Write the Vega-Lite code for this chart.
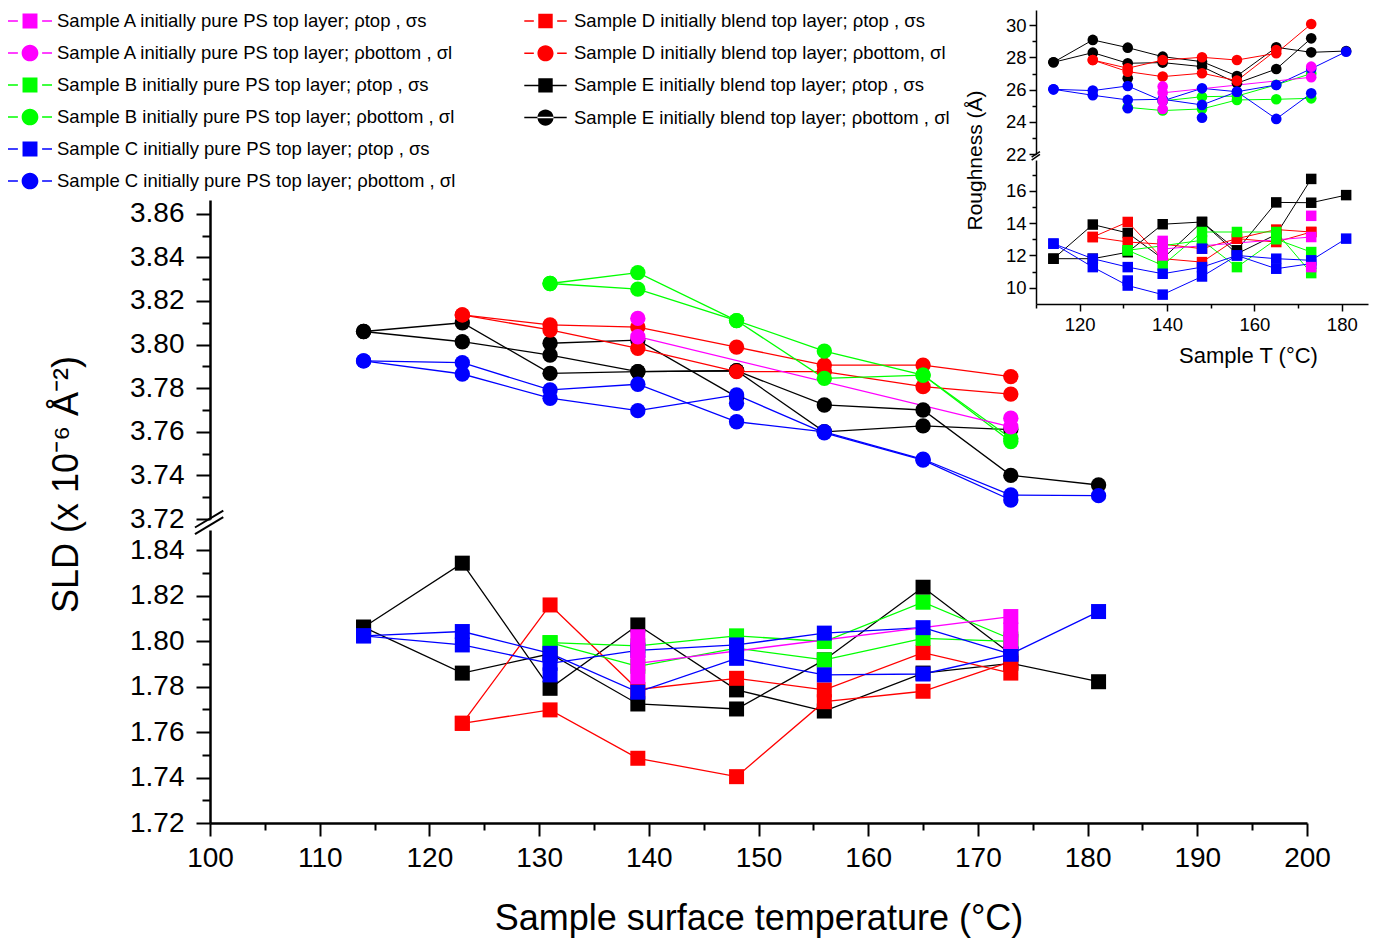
{
  "$schema": "https://vega.github.io/schema/vega-lite/v6.json",
  "width": 1376,
  "height": 939,
  "autosize": {"type": "none"},
  "padding": 0,
  "background": "white",
  "config": {
    "view": {"stroke": null},
    "font": "Liberation Sans",
    "axis": {"grid": false, "domainColor": "black", "tickColor": "black", "labelColor": "black", "titleColor": "black", "labelFont": "Liberation Sans", "titleFont": "Liberation Sans", "titleFontWeight": "normal", "labelOverlap": false, "labelFlush": false}
  },
  "datasets": {
    "d": [
      {"p":"U","s":"E","T":114,"v":3.806,"r":1},{"p":"U","s":"E","T":123,"v":3.810,"r":1},{"p":"U","s":"E","T":131,"v":3.7868,"r":1},{"p":"U","s":"E","T":139,"v":3.7876,"r":1},{"p":"U","s":"E","T":148,"v":3.788,"r":1},{"p":"U","s":"E","T":156,"v":3.7723,"r":1},{"p":"U","s":"E","T":165,"v":3.770,"r":1},{"p":"U","s":"E","T":173,"v":3.740,"r":1},{"p":"U","s":"E","T":181,"v":3.7356,"r":1},
      {"p":"U","s":"E","T":114,"v":3.806,"r":2},{"p":"U","s":"E","T":123,"v":3.8013,"r":2},{"p":"U","s":"E","T":131,"v":3.7952,"r":2},{"p":"U","s":"E","T":139,"v":3.7876,"r":2},{"p":"U","s":"E","T":148,"v":3.788,"r":2},{"p":"U","s":"E","T":156,"v":3.760,"r":2},{"p":"U","s":"E","T":165,"v":3.7627,"r":2},{"p":"U","s":"E","T":173,"v":3.761,"r":2},
      {"p":"U","s":"E","T":131,"v":3.8006,"r":3},{"p":"U","s":"E","T":139,"v":3.802,"r":3},{"p":"U","s":"E","T":148,"v":3.776,"r":3},
      {"p":"U","s":"D","T":123,"v":3.8136,"r":1},{"p":"U","s":"D","T":131,"v":3.809,"r":1},{"p":"U","s":"D","T":139,"v":3.808,"r":1},{"p":"U","s":"D","T":148,"v":3.7988,"r":1},{"p":"U","s":"D","T":156,"v":3.7906,"r":1},{"p":"U","s":"D","T":165,"v":3.7906,"r":1},{"p":"U","s":"D","T":173,"v":3.7853,"r":1},
      {"p":"U","s":"D","T":123,"v":3.8136,"r":2},{"p":"U","s":"D","T":131,"v":3.8067,"r":2},{"p":"U","s":"D","T":139,"v":3.7983,"r":2},{"p":"U","s":"D","T":148,"v":3.7876,"r":2},{"p":"U","s":"D","T":156,"v":3.7876,"r":2},{"p":"U","s":"D","T":165,"v":3.7807,"r":2},{"p":"U","s":"D","T":173,"v":3.7773,"r":2},
      {"p":"U","s":"B","T":131,"v":3.828,"r":1},{"p":"U","s":"B","T":139,"v":3.833,"r":1},{"p":"U","s":"B","T":148,"v":3.811,"r":1},{"p":"U","s":"B","T":156,"v":3.797,"r":1},{"p":"U","s":"B","T":165,"v":3.786,"r":1},{"p":"U","s":"B","T":173,"v":3.7555,"r":1},
      {"p":"U","s":"B","T":131,"v":3.828,"r":2},{"p":"U","s":"B","T":139,"v":3.8254,"r":2},{"p":"U","s":"B","T":148,"v":3.811,"r":2},{"p":"U","s":"B","T":156,"v":3.7845,"r":2},{"p":"U","s":"B","T":165,"v":3.786,"r":2},{"p":"U","s":"B","T":173,"v":3.757,"r":2},
      {"p":"U","s":"C","T":114,"v":3.7925,"r":1},{"p":"U","s":"C","T":123,"v":3.7917,"r":1},{"p":"U","s":"C","T":131,"v":3.7792,"r":1},{"p":"U","s":"C","T":139,"v":3.7818,"r":1},{"p":"U","s":"C","T":148,"v":3.7646,"r":1},{"p":"U","s":"C","T":156,"v":3.760,"r":1},{"p":"U","s":"C","T":165,"v":3.7474,"r":1},{"p":"U","s":"C","T":173,"v":3.731,"r":1},{"p":"U","s":"C","T":181,"v":3.7307,"r":1},
      {"p":"U","s":"C","T":114,"v":3.7925,"r":2},{"p":"U","s":"C","T":123,"v":3.7865,"r":2},{"p":"U","s":"C","T":131,"v":3.7754,"r":2},{"p":"U","s":"C","T":139,"v":3.7697,"r":2},{"p":"U","s":"C","T":148,"v":3.7769,"r":2},{"p":"U","s":"C","T":156,"v":3.7595,"r":2},{"p":"U","s":"C","T":165,"v":3.747,"r":2},{"p":"U","s":"C","T":173,"v":3.7287,"r":2},
      {"p":"U","s":"C","T":148,"v":3.7731,"r":0},
      {"p":"U","s":"A","T":139,"v":3.8036,"r":1},{"p":"U","s":"A","T":173,"v":3.7623,"r":1},
      {"p":"U","s":"A","T":139,"v":3.812,"r":0},{"p":"U","s":"A","T":173,"v":3.7662,"r":0},

      {"p":"L","s":"E","T":114,"v":1.8062,"r":1},{"p":"L","s":"E","T":123,"v":1.8344,"r":1},{"p":"L","s":"E","T":131,"v":1.7793,"r":1},{"p":"L","s":"E","T":139,"v":1.8072,"r":1},{"p":"L","s":"E","T":148,"v":1.7786,"r":1},{"p":"L","s":"E","T":156,"v":1.7693,"r":1},{"p":"L","s":"E","T":165,"v":1.786,"r":1},{"p":"L","s":"E","T":173,"v":1.7903,"r":1},{"p":"L","s":"E","T":181,"v":1.7822,"r":1},
      {"p":"L","s":"E","T":114,"v":1.8062,"r":2},{"p":"L","s":"E","T":123,"v":1.786,"r":2},{"p":"L","s":"E","T":131,"v":1.7945,"r":2},{"p":"L","s":"E","T":139,"v":1.7724,"r":2},{"p":"L","s":"E","T":148,"v":1.7702,"r":2},{"p":"L","s":"E","T":156,"v":1.7918,"r":2},{"p":"L","s":"E","T":165,"v":1.8238,"r":2},{"p":"L","s":"E","T":173,"v":1.7944,"r":2},
      {"p":"L","s":"D","T":123,"v":1.7639,"r":1},{"p":"L","s":"D","T":131,"v":1.816,"r":1},{"p":"L","s":"D","T":139,"v":1.7788,"r":1},{"p":"L","s":"D","T":148,"v":1.7837,"r":1},{"p":"L","s":"D","T":156,"v":1.7786,"r":1},{"p":"L","s":"D","T":165,"v":1.795,"r":1},{"p":"L","s":"D","T":173,"v":1.786,"r":1},
      {"p":"L","s":"D","T":123,"v":1.7639,"r":2},{"p":"L","s":"D","T":131,"v":1.7698,"r":2},{"p":"L","s":"D","T":139,"v":1.7485,"r":2},{"p":"L","s":"D","T":148,"v":1.7404,"r":2},{"p":"L","s":"D","T":156,"v":1.7734,"r":2},{"p":"L","s":"D","T":165,"v":1.778,"r":2},{"p":"L","s":"D","T":173,"v":1.791,"r":2},
      {"p":"L","s":"B","T":131,"v":1.7994,"r":1},{"p":"L","s":"B","T":139,"v":1.798,"r":1},{"p":"L","s":"B","T":148,"v":1.8024,"r":1},{"p":"L","s":"B","T":156,"v":1.7999,"r":1},{"p":"L","s":"B","T":165,"v":1.8172,"r":1},{"p":"L","s":"B","T":173,"v":1.801,"r":1},
      {"p":"L","s":"B","T":131,"v":1.7994,"r":2},{"p":"L","s":"B","T":139,"v":1.789,"r":2},{"p":"L","s":"B","T":148,"v":1.797,"r":2},{"p":"L","s":"B","T":156,"v":1.7918,"r":2},{"p":"L","s":"B","T":165,"v":1.8013,"r":2},{"p":"L","s":"B","T":173,"v":1.800,"r":2},
      {"p":"L","s":"C","T":114,"v":1.8024,"r":1},{"p":"L","s":"C","T":123,"v":1.8043,"r":1},{"p":"L","s":"C","T":131,"v":1.7947,"r":1},{"p":"L","s":"C","T":139,"v":1.7776,"r":1},{"p":"L","s":"C","T":148,"v":1.7925,"r":1},{"p":"L","s":"C","T":156,"v":1.7852,"r":1},{"p":"L","s":"C","T":165,"v":1.7856,"r":1},{"p":"L","s":"C","T":173,"v":1.7944,"r":1},{"p":"L","s":"C","T":181,"v":1.8131,"r":1},
      {"p":"L","s":"C","T":114,"v":1.8024,"r":2},{"p":"L","s":"C","T":123,"v":1.7984,"r":2},{"p":"L","s":"C","T":131,"v":1.7903,"r":2},{"p":"L","s":"C","T":139,"v":1.796,"r":2},{"p":"L","s":"C","T":148,"v":1.7984,"r":2},{"p":"L","s":"C","T":156,"v":1.8036,"r":2},{"p":"L","s":"C","T":165,"v":1.806,"r":2},{"p":"L","s":"C","T":173,"v":1.7944,"r":2},
      {"p":"L","s":"C","T":131,"v":1.7852,"r":0},
      {"p":"L","s":"A","T":139,"v":1.7903,"r":1},{"p":"L","s":"A","T":173,"v":1.8109,"r":1},
      {"p":"L","s":"A","T":139,"v":1.802,"r":0},{"p":"L","s":"A","T":139,"v":1.7962,"r":0},{"p":"L","s":"A","T":139,"v":1.7844,"r":0},{"p":"L","s":"A","T":173,"v":1.805,"r":0},{"p":"L","s":"A","T":173,"v":1.7999,"r":0},

      {"p":"IU","s":"E","T":114,"v":27.70,"r":1},{"p":"IU","s":"E","T":123,"v":29.09,"r":1},{"p":"IU","s":"E","T":131,"v":28.61,"r":1},{"p":"IU","s":"E","T":139,"v":28.05,"r":1},{"p":"IU","s":"E","T":148,"v":27.74,"r":1},{"p":"IU","s":"E","T":156,"v":26.85,"r":1},{"p":"IU","s":"E","T":165,"v":28.63,"r":1},{"p":"IU","s":"E","T":173,"v":28.32,"r":1},{"p":"IU","s":"E","T":181,"v":28.4,"r":1},
      {"p":"IU","s":"E","T":114,"v":27.70,"r":2},{"p":"IU","s":"E","T":123,"v":28.30,"r":2},{"p":"IU","s":"E","T":131,"v":27.64,"r":2},{"p":"IU","s":"E","T":139,"v":27.68,"r":2},{"p":"IU","s":"E","T":148,"v":27.43,"r":2},{"p":"IU","s":"E","T":156,"v":26.4,"r":2},{"p":"IU","s":"E","T":165,"v":27.28,"r":2},{"p":"IU","s":"E","T":173,"v":29.19,"r":2},
      {"p":"IU","s":"E","T":131,"v":26.71,"r":0},
      {"p":"IU","s":"D","T":123,"v":27.84,"r":1},{"p":"IU","s":"D","T":131,"v":27.33,"r":1},{"p":"IU","s":"D","T":139,"v":27.84,"r":1},{"p":"IU","s":"D","T":148,"v":28.01,"r":1},{"p":"IU","s":"D","T":156,"v":27.84,"r":1},{"p":"IU","s":"D","T":165,"v":28.26,"r":1},{"p":"IU","s":"D","T":173,"v":30.08,"r":1},
      {"p":"IU","s":"D","T":123,"v":27.84,"r":2},{"p":"IU","s":"D","T":131,"v":27.12,"r":2},{"p":"IU","s":"D","T":139,"v":26.81,"r":2},{"p":"IU","s":"D","T":148,"v":27.02,"r":2},{"p":"IU","s":"D","T":156,"v":26.56,"r":2},{"p":"IU","s":"D","T":165,"v":28.46,"r":2},
      {"p":"IU","s":"B","T":131,"v":24.9,"r":1},{"p":"IU","s":"B","T":139,"v":24.7,"r":1},{"p":"IU","s":"B","T":148,"v":24.8,"r":1},{"p":"IU","s":"B","T":156,"v":25.36,"r":1},{"p":"IU","s":"B","T":165,"v":25.40,"r":1},{"p":"IU","s":"B","T":173,"v":25.46,"r":1},
      {"p":"IU","s":"B","T":139,"v":25.3,"r":2},{"p":"IU","s":"B","T":148,"v":25.56,"r":2},{"p":"IU","s":"B","T":156,"v":25.6,"r":2},{"p":"IU","s":"B","T":165,"v":26.3,"r":2},{"p":"IU","s":"B","T":173,"v":27.0,"r":2},
      {"p":"IU","s":"C","T":114,"v":26.02,"r":1},{"p":"IU","s":"C","T":123,"v":25.94,"r":1},{"p":"IU","s":"C","T":131,"v":26.23,"r":1},{"p":"IU","s":"C","T":139,"v":25.3,"r":1},{"p":"IU","s":"C","T":148,"v":26.08,"r":1},{"p":"IU","s":"C","T":156,"v":25.87,"r":1},{"p":"IU","s":"C","T":165,"v":26.29,"r":1},{"p":"IU","s":"C","T":173,"v":27.3,"r":1},{"p":"IU","s":"C","T":181,"v":28.36,"r":1},
      {"p":"IU","s":"C","T":114,"v":26.02,"r":2},{"p":"IU","s":"C","T":123,"v":25.65,"r":2},{"p":"IU","s":"C","T":131,"v":25.36,"r":2},{"p":"IU","s":"C","T":139,"v":25.4,"r":2},{"p":"IU","s":"C","T":148,"v":25.05,"r":2},{"p":"IU","s":"C","T":156,"v":25.87,"r":2},{"p":"IU","s":"C","T":165,"v":24.18,"r":2},{"p":"IU","s":"C","T":173,"v":25.77,"r":2},
      {"p":"IU","s":"C","T":131,"v":24.84,"r":0},{"p":"IU","s":"C","T":148,"v":24.26,"r":0},
      {"p":"IU","s":"A","T":139,"v":25.8,"r":1},{"p":"IU","s":"A","T":173,"v":26.77,"r":1},
      {"p":"IU","s":"A","T":139,"v":26.2,"r":0},{"p":"IU","s":"A","T":139,"v":25.3,"r":0},{"p":"IU","s":"A","T":139,"v":24.8,"r":0},{"p":"IU","s":"A","T":173,"v":27.43,"r":0},

      {"p":"IL","s":"E","T":114,"v":11.80,"r":1},{"p":"IL","s":"E","T":123,"v":13.91,"r":1},{"p":"IL","s":"E","T":131,"v":13.39,"r":1},{"p":"IL","s":"E","T":139,"v":11.80,"r":1},{"p":"IL","s":"E","T":148,"v":14.07,"r":1},{"p":"IL","s":"E","T":156,"v":12.32,"r":1},{"p":"IL","s":"E","T":165,"v":15.28,"r":1},{"p":"IL","s":"E","T":173,"v":15.26,"r":1},{"p":"IL","s":"E","T":181,"v":15.73,"r":1},
      {"p":"IL","s":"E","T":114,"v":11.80,"r":2},{"p":"IL","s":"E","T":123,"v":11.80,"r":2},{"p":"IL","s":"E","T":131,"v":12.2,"r":2},{"p":"IL","s":"E","T":139,"v":13.93,"r":2},{"p":"IL","s":"E","T":148,"v":14.07,"r":2},{"p":"IL","s":"E","T":156,"v":12.1,"r":2},{"p":"IL","s":"E","T":165,"v":13.3,"r":2},{"p":"IL","s":"E","T":173,"v":16.73,"r":2},
      {"p":"IL","s":"D","T":123,"v":13.14,"r":1},{"p":"IL","s":"D","T":131,"v":14.07,"r":1},{"p":"IL","s":"D","T":139,"v":11.80,"r":1},{"p":"IL","s":"D","T":148,"v":11.59,"r":1},{"p":"IL","s":"D","T":156,"v":13.04,"r":1},{"p":"IL","s":"D","T":165,"v":13.60,"r":1},{"p":"IL","s":"D","T":173,"v":13.45,"r":1},
      {"p":"IL","s":"D","T":123,"v":13.14,"r":2},{"p":"IL","s":"D","T":131,"v":12.83,"r":2},{"p":"IL","s":"D","T":139,"v":12.7,"r":2},{"p":"IL","s":"D","T":148,"v":12.42,"r":2},{"p":"IL","s":"D","T":156,"v":13.04,"r":2},{"p":"IL","s":"D","T":165,"v":12.83,"r":2},{"p":"IL","s":"D","T":173,"v":13.45,"r":2},
      {"p":"IL","s":"B","T":131,"v":12.32,"r":1},{"p":"IL","s":"B","T":139,"v":11.39,"r":1},{"p":"IL","s":"B","T":148,"v":13.45,"r":1},{"p":"IL","s":"B","T":156,"v":13.45,"r":1},{"p":"IL","s":"B","T":165,"v":13.45,"r":1},{"p":"IL","s":"B","T":173,"v":10.91,"r":1},
      {"p":"IL","s":"B","T":131,"v":12.32,"r":2},{"p":"IL","s":"B","T":139,"v":12.6,"r":2},{"p":"IL","s":"B","T":148,"v":12.94,"r":2},{"p":"IL","s":"B","T":156,"v":11.28,"r":2},{"p":"IL","s":"B","T":165,"v":13.0,"r":2},{"p":"IL","s":"B","T":173,"v":12.21,"r":2},
      {"p":"IL","s":"C","T":114,"v":12.73,"r":1},{"p":"IL","s":"C","T":123,"v":11.80,"r":1},{"p":"IL","s":"C","T":131,"v":11.28,"r":1},{"p":"IL","s":"C","T":139,"v":10.87,"r":1},{"p":"IL","s":"C","T":148,"v":11.28,"r":1},{"p":"IL","s":"C","T":156,"v":12.0,"r":1},{"p":"IL","s":"C","T":165,"v":11.80,"r":1},{"p":"IL","s":"C","T":173,"v":11.70,"r":1},{"p":"IL","s":"C","T":181,"v":13.04,"r":1},
      {"p":"IL","s":"C","T":114,"v":12.73,"r":2},{"p":"IL","s":"C","T":123,"v":11.28,"r":2},{"p":"IL","s":"C","T":131,"v":10.14,"r":2},{"p":"IL","s":"C","T":139,"v":9.58,"r":2},{"p":"IL","s":"C","T":148,"v":10.70,"r":2},{"p":"IL","s":"C","T":156,"v":12.0,"r":2},{"p":"IL","s":"C","T":165,"v":11.18,"r":2},{"p":"IL","s":"C","T":173,"v":11.5,"r":2},
      {"p":"IL","s":"C","T":131,"v":10.45,"r":0},{"p":"IL","s":"C","T":148,"v":12.42,"r":0},
      {"p":"IL","s":"A","T":139,"v":12.4,"r":1},{"p":"IL","s":"A","T":173,"v":13.14,"r":1},
      {"p":"IL","s":"A","T":139,"v":12.9,"r":0},{"p":"IL","s":"A","T":139,"v":12.0,"r":0},{"p":"IL","s":"A","T":173,"v":14.45,"r":0},{"p":"IL","s":"A","T":173,"v":11.28,"r":0}
    ],
    "brk": [
      {"p":"U","T":98.63,"v":3.7161,"T2":101.21,"v2":3.7238},
      {"p":"U","T":98.63,"v":3.7131,"T2":101.21,"v2":3.7209},
      {"p":"IU","T":109.0,"v":21.8,"T2":110.9,"v2":22.15},
      {"p":"IU","T":109.0,"v":21.62,"T2":110.9,"v2":21.97}
    ]
  },
  "layer": [
    {
      "data": {"name": "d"},
      "transform": [{"filter": "datum.p === 'U'"}],
      "encoding": {
        "x": {"field": "T", "type": "quantitative", "scale": {"domain": [100, 200], "range": [210, 1307], "nice": false, "zero": false}, "axis": null},
        "y": {"field": "v", "type": "quantitative", "scale": {"domain": [3.72, 3.8663], "range": [519, 200], "nice": false, "zero": false},
          "axis": {"orient": "left", "offset": -210, "values": [3.72,3.73,3.74,3.75,3.76,3.77,3.78,3.79,3.80,3.81,3.82,3.83,3.84,3.85,3.86],
            "labelExpr": "round(datum.value*100) % 2 === 0 ? format(datum.value, '.2f') : ''",
            "tickSize": {"condition": {"test": "round(datum.value*100) % 2 === 0", "value": 14}, "value": 8},
            "tickWidth": 2, "domainWidth": 2.5, "labelFontSize": 28, "labelPadding": 12,
            "title": "SLD (x 10⁻⁶ Å⁻²)", "titleFontSize": 36, "titleAngle": -90, "titleAlign": "center", "titleBaseline": "middle", "titleX": -144, "titleY": 484}},
        "color": {"field": "s", "type": "nominal", "scale": {"domain": ["A","B","C","D","E"], "range": ["#FF00FF","#00FF00","#0000FF","#FF0000","#000000"]}, "legend": null}
      },
      "layer": [
        {"transform": [{"filter": "datum.r > 0"}], "mark": {"type": "line", "strokeWidth": 1.3}, "encoding": {"detail": {"field": "r", "type": "nominal"}}},
        {"mark": {"type": "point", "filled": true, "shape": "circle", "size": 236, "opacity": 1}},
        {"data": {"name": "brk"}, "transform": [{"filter": "datum.p === 'U'"}], "mark": {"type": "rule", "strokeWidth": 2}, "encoding": {"x2": {"field": "T2"}, "y2": {"field": "v2"}, "color": {"value": "black"}}}
      ]
    },
    {
      "data": {"name": "d"},
      "transform": [{"filter": "datum.p === 'L'"}],
      "encoding": {
        "x": {"field": "T", "type": "quantitative", "scale": {"domain": [100, 200], "range": [210, 1307], "nice": false, "zero": false},
          "axis": {"orient": "bottom", "offset": -116, "values": [100,105,110,115,120,125,130,135,140,145,150,155,160,165,170,175,180,185,190,195,200],
            "labelExpr": "datum.value % 10 === 0 ? format(datum.value, 'd') : ''",
            "tickSize": {"condition": {"test": "datum.value % 10 === 0", "value": 13}, "value": 7},
            "tickWidth": 2, "domainWidth": 2.5, "labelFontSize": 28, "labelPadding": 8,
            "title": "Sample surface temperature (°C)", "titleFontSize": 36, "titleBaseline": "middle", "titleY": 95}},
        "y": {"field": "v", "type": "quantitative", "scale": {"domain": [1.72, 1.849], "range": [823, 530], "nice": false, "zero": false},
          "axis": {"orient": "left", "offset": -210, "values": [1.72,1.73,1.74,1.75,1.76,1.77,1.78,1.79,1.80,1.81,1.82,1.83,1.84],
            "labelExpr": "round(datum.value*100) % 2 === 0 ? format(datum.value, '.2f') : ''",
            "tickSize": {"condition": {"test": "round(datum.value*100) % 2 === 0", "value": 14}, "value": 8},
            "tickWidth": 2, "domainWidth": 2.5, "labelFontSize": 28, "labelPadding": 12, "title": null}},
        "color": {"field": "s", "type": "nominal", "scale": {"domain": ["A","B","C","D","E"], "range": ["#FF00FF","#00FF00","#0000FF","#FF0000","#000000"]}, "legend": null}
      },
      "layer": [
        {"transform": [{"filter": "datum.r > 0"}], "mark": {"type": "line", "strokeWidth": 1.3}, "encoding": {"detail": {"field": "r", "type": "nominal"}}},
        {"mark": {"type": "point", "filled": true, "shape": "square", "size": 225, "opacity": 1}}
      ]
    },
    {
      "data": {"name": "d"},
      "transform": [{"filter": "datum.p === 'IU'"}],
      "encoding": {
        "x": {"field": "T", "type": "quantitative", "scale": {"domain": [110, 186], "range": [1036, 1368], "nice": false, "zero": false}, "axis": null},
        "y": {"field": "v", "type": "quantitative", "scale": {"domain": [22, 30.95], "range": [154, 10], "nice": false, "zero": false},
          "axis": {"orient": "left", "offset": -1036, "values": [22,23,24,25,26,27,28,29,30],
            "labelExpr": "datum.value % 2 === 0 ? format(datum.value, 'd') : ''",
            "tickSize": {"condition": {"test": "datum.value % 2 === 0", "value": 7}, "value": 4},
            "tickWidth": 1.5, "domainWidth": 1.5, "labelFontSize": 18.5, "labelPadding": 3,
            "title": "Roughness (Å)", "titleFontSize": 21, "titleAngle": -90, "titleAlign": "center", "titleBaseline": "middle", "titleX": -61, "titleY": 160}},
        "color": {"field": "s", "type": "nominal", "scale": {"domain": ["A","B","C","D","E"], "range": ["#FF00FF","#00FF00","#0000FF","#FF0000","#000000"]}, "legend": null}
      },
      "layer": [
        {"transform": [{"filter": "datum.r > 0"}], "mark": {"type": "line", "strokeWidth": 1}, "encoding": {"detail": {"field": "r", "type": "nominal"}}},
        {"mark": {"type": "point", "filled": true, "shape": "circle", "size": 113, "opacity": 1}},
        {"data": {"name": "brk"}, "transform": [{"filter": "datum.p === 'IU'"}], "mark": {"type": "rule", "strokeWidth": 1.5}, "encoding": {"x2": {"field": "T2"}, "y2": {"field": "v2"}, "color": {"value": "black"}}}
      ]
    },
    {
      "data": {"name": "d"},
      "transform": [{"filter": "datum.p === 'IL'"}],
      "encoding": {
        "x": {"field": "T", "type": "quantitative", "scale": {"domain": [110, 186], "range": [1036, 1368], "nice": false, "zero": false},
          "axis": {"orient": "bottom", "offset": -635, "values": [110,120,130,140,150,160,170,180],
            "labelExpr": "datum.value % 20 === 0 ? format(datum.value, 'd') : ''",
            "tickSize": {"condition": {"test": "datum.value % 20 === 0", "value": 7}, "value": 4},
            "tickWidth": 1.5, "domainWidth": 1.5, "labelFontSize": 18.5, "labelPadding": 4,
            "title": "Sample T (°C)", "titleFontSize": 22, "titleBaseline": "middle", "titleX": 1248, "titleY": 51}},
        "y": {"field": "v", "type": "quantitative", "scale": {"domain": [9, 17.9], "range": [304, 160], "nice": false, "zero": false},
          "axis": {"orient": "left", "offset": -1036, "values": [10,11,12,13,14,15,16,17],
            "labelExpr": "datum.value % 2 === 0 ? format(datum.value, 'd') : ''",
            "tickSize": {"condition": {"test": "datum.value % 2 === 0", "value": 7}, "value": 4},
            "tickWidth": 1.5, "domainWidth": 1.5, "labelFontSize": 18.5, "labelPadding": 3, "title": null}},
        "color": {"field": "s", "type": "nominal", "scale": {"domain": ["A","B","C","D","E"], "range": ["#FF00FF","#00FF00","#0000FF","#FF0000","#000000"]}, "legend": null}
      },
      "layer": [
        {"transform": [{"filter": "datum.r > 0"}], "mark": {"type": "line", "strokeWidth": 1}, "encoding": {"detail": {"field": "r", "type": "nominal"}}},
        {"mark": {"type": "point", "filled": true, "shape": "square", "size": 110, "opacity": 1}}
      ]
    },
    {
      "data": {"values": [{"lab": "x"}]},
      "transform": [{"filter": "false"}],
      "mark": {"type": "point", "filled": true},
      "encoding": {
        "color": {"field": "lab", "type": "nominal",
          "scale": {"domain": ["Sample A initially pure PS top layer; ρtop , σs", "Sample A initially pure PS top layer; ρbottom , σl", "Sample B initially pure PS top layer; ρtop  , σs", "Sample B initially pure PS top layer; ρbottom , σl", "Sample C initially pure PS top layer; ρtop  , σs", "Sample C initially pure PS top layer; ρbottom , σl"],
            "range": ["#FF00FF","#FF00FF","#00FF00","#00FF00","#0000FF","#0000FF"]},
          "legend": {"orient": "none", "legendX": 8, "legendY": -1, "title": null, "symbolSize": 1936, "labelFontSize": 18.5, "labelFont": "Liberation Sans", "labelColor": "black", "rowPadding": 0, "labelOffset": 5, "symbolStrokeWidth": 0, "labelLimit": 0, "padding": 0, "symbolOpacity": 1}},
        "shape": {"field": "lab", "type": "nominal",
          "scale": {"domain": ["Sample A initially pure PS top layer; ρtop , σs", "Sample A initially pure PS top layer; ρbottom , σl", "Sample B initially pure PS top layer; ρtop  , σs", "Sample B initially pure PS top layer; ρbottom , σl", "Sample C initially pure PS top layer; ρtop  , σs", "Sample C initially pure PS top layer; ρbottom , σl"],
            "range": ["M-1,-0.035H-0.55V0.035H-1Z M0.55,-0.035H1V0.035H0.55Z M-0.34,-0.34H0.34V0.34H-0.34Z", "M-1,-0.035H-0.55V0.035H-1Z M0.55,-0.035H1V0.035H0.55Z M-0.38,0A0.38,0.38 0 1,0 0.38,0A0.38,0.38 0 1,0 -0.38,0Z", "M-1,-0.035H-0.55V0.035H-1Z M0.55,-0.035H1V0.035H0.55Z M-0.34,-0.34H0.34V0.34H-0.34Z", "M-1,-0.035H-0.55V0.035H-1Z M0.55,-0.035H1V0.035H0.55Z M-0.38,0A0.38,0.38 0 1,0 0.38,0A0.38,0.38 0 1,0 -0.38,0Z", "M-1,-0.035H-0.55V0.035H-1Z M0.55,-0.035H1V0.035H0.55Z M-0.34,-0.34H0.34V0.34H-0.34Z", "M-1,-0.035H-0.55V0.035H-1Z M0.55,-0.035H1V0.035H0.55Z M-0.38,0A0.38,0.38 0 1,0 0.38,0A0.38,0.38 0 1,0 -0.38,0Z"]},
          "legend": {"orient": "none", "legendX": 8, "legendY": -1, "title": null, "symbolSize": 1936, "labelFontSize": 18.5, "labelFont": "Liberation Sans", "labelColor": "black", "rowPadding": 0, "labelOffset": 5, "symbolStrokeWidth": 0, "labelLimit": 0, "padding": 0, "symbolOpacity": 1}}
      }
    },
    {
      "data": {"values": [{"lab": "x"}]},
      "transform": [{"filter": "false"}],
      "mark": {"type": "point", "filled": true},
      "encoding": {
        "color": {"field": "lab", "type": "nominal",
          "scale": {"domain": ["Sample D initially blend top layer; ρtop , σs", "Sample D initially blend top layer; ρbottom, σl", "Sample E initially blend top layer; ρtop  , σs", "Sample E initially blend top layer; ρbottom , σl"],
            "range": ["#FF0000","#FF0000","#000000","#000000"]},
          "legend": {"orient": "none", "legendX": 524, "legendY": -0.5, "title": null, "symbolSize": 1800, "labelFontSize": 18.5, "labelFont": "Liberation Sans", "labelColor": "black", "rowPadding": 1.2, "labelOffset": 7, "symbolStrokeWidth": 0, "labelLimit": 0, "padding": 0, "symbolOpacity": 1}},
        "shape": {"field": "lab", "type": "nominal",
          "scale": {"domain": ["Sample D initially blend top layer; ρtop , σs", "Sample D initially blend top layer; ρbottom, σl", "Sample E initially blend top layer; ρtop  , σs", "Sample E initially blend top layer; ρbottom , σl"],
            "range": ["M-1,-0.035H-0.55V0.035H-1Z M0.55,-0.035H1V0.035H0.55Z M-0.34,-0.34H0.34V0.34H-0.34Z", "M-1,-0.035H-0.55V0.035H-1Z M0.55,-0.035H1V0.035H0.55Z M-0.38,0A0.38,0.38 0 1,0 0.38,0A0.38,0.38 0 1,0 -0.38,0Z", "M-1,-0.035H1V0.035H-1Z M-0.34,-0.34H0.34V0.34H-0.34Z", "M-1,-0.035H1V0.035H-1Z M-0.38,0A0.38,0.38 0 1,0 0.38,0A0.38,0.38 0 1,0 -0.38,0Z"]},
          "legend": {"orient": "none", "legendX": 524, "legendY": -0.5, "title": null, "symbolSize": 1800, "labelFontSize": 18.5, "labelFont": "Liberation Sans", "labelColor": "black", "rowPadding": 1.2, "labelOffset": 7, "symbolStrokeWidth": 0, "labelLimit": 0, "padding": 0, "symbolOpacity": 1}}
      }
    }
  ],
  "resolve": {
    "scale": {"x": "independent", "y": "independent", "color": "independent", "shape": "independent"},
    "axis": {"x": "independent", "y": "independent"},
    "legend": {"color": "independent", "shape": "independent"}
  }
}
